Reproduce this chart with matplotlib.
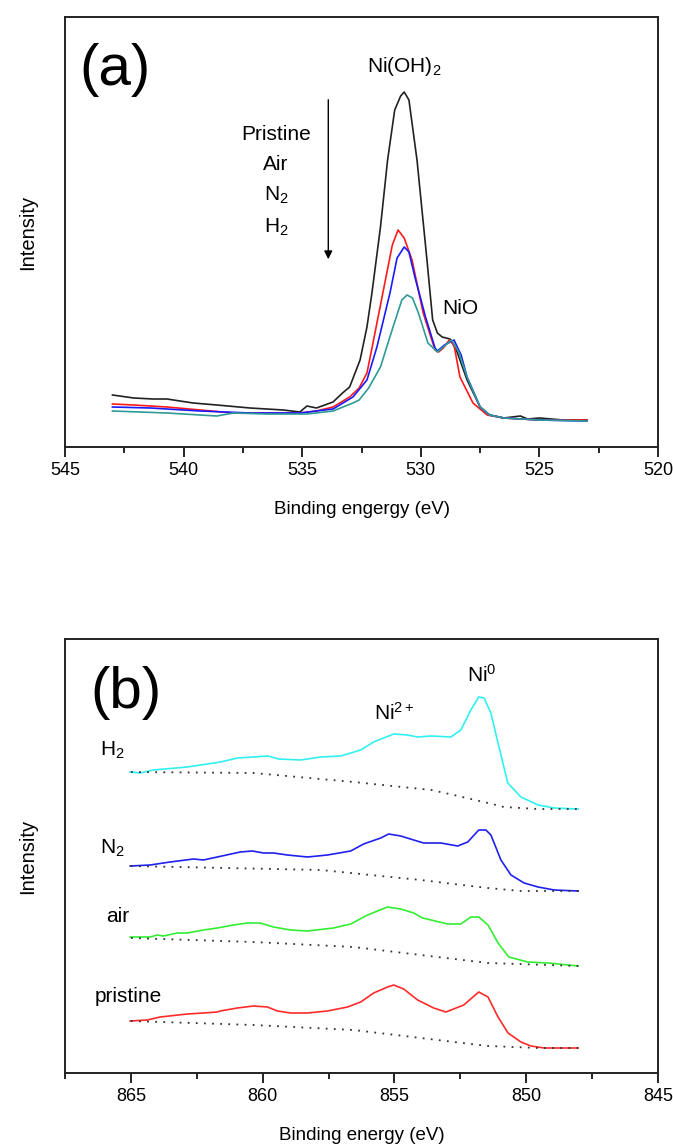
import matplotlib
matplotlib.use("Agg")
import matplotlib.pyplot as plt
from matplotlib.ticker import MultipleLocator

plt.rcParams['font.family'] = ['Liberation Sans', 'DejaVu Sans']
plt.rcParams['mathtext.default'] = 'regular'

# ---- panel (a): O 1s ----
e_pristine_a = [543.0, 542.1, 541.3, 540.7, 539.6, 538.6, 537.2, 535.8, 535.1, 534.8, 534.4,
                533.7, 533.3, 533.0, 532.56, 532.27, 532.06, 531.7, 531.4, 531.1, 530.85, 530.7,
                530.5, 530.16, 529.74, 529.5, 529.3, 529.1, 528.77, 528.5, 528.05, 527.5, 527.1,
                526.5, 525.8, 525.5, 525.0, 524.0, 523.0]
i_pristine_a = [52, 49, 48, 48, 44, 42, 39, 37, 35, 41, 39, 45, 54, 60, 87, 120, 154, 220, 287,
                337, 351, 355, 347, 287, 187, 127, 114, 110, 108, 97, 67, 40, 32, 29, 31, 28,
                29, 27, 27]

e_air_a = [543.0, 542.1, 540.7, 539.3, 537.9, 536.5, 535.1, 534.4, 533.7, 533.0, 532.6, 532.27,
           532.1, 531.6, 531.2, 530.96, 530.7, 530.37, 529.9, 529.4, 529.25, 529.05, 528.8,
           528.6, 528.35, 527.8, 527.2, 526.5, 525.0, 523.0]
i_air_a = [43, 42, 40, 37, 34, 34, 34, 36, 40, 50, 59, 74, 94, 154, 202, 217, 209, 187, 134,
           97, 95, 99, 107, 102, 70, 44, 32, 29, 27, 27]

e_n2_a = [543.0, 541.4, 539.3, 537.2, 535.1, 533.7, 532.86, 532.27, 531.85, 531.3, 531.0,
          530.7, 530.5, 530.25, 529.8, 529.4, 529.3, 529.0, 528.6, 528.3, 528.05, 527.5,
          527.1, 526.5, 525.0, 523.0]
i_n2_a = [40, 39, 36, 34, 34, 38, 50, 67, 100, 154, 189, 200, 195, 170, 130, 99, 96, 102,
          107, 92, 70, 40, 32, 29, 27, 26]

e_h2_a = [543.0, 540.7, 538.6, 537.9, 536.5, 534.8, 533.7, 532.86, 532.6, 532.2, 531.7,
          531.17, 530.8, 530.58, 530.35, 530.1, 529.7, 529.3, 529.0, 528.7, 528.4, 528.05,
          527.5, 527.1, 526.5, 525.0, 523.0]
i_h2_a = [36, 34, 31, 34, 33, 33, 36, 44, 47, 59, 80, 120, 147, 152, 149, 134, 104, 95, 101,
          107, 95, 70, 40, 32, 29, 27, 26]

# ---- panel (b): Ni 2p3/2 ----
e_h2_b = [865.03, 864.65, 864.15, 862.86, 862.1, 861.6, 860.96, 860.35, 859.8, 859.4, 858.56,
          857.8, 857.04, 856.28, 855.79, 855.03, 854.5, 854.12, 853.6, 852.86, 852.48, 852.1,
          851.8, 851.6, 851.34, 851.07, 850.7, 850.2, 849.55, 848.94, 848.03]
i_h2_b = [301, 300, 303, 306, 309, 311, 315, 316, 317, 314, 313, 316, 317, 323, 331, 339, 338,
          336, 337, 336, 343, 363, 376, 375, 360, 330, 290, 276, 268, 265, 264]
e_h2_bg = [865.0, 860.35, 856.55, 853.6, 852.75, 851.45, 850.85, 849.55, 848.0]
i_h2_bg = [301, 300, 291, 283, 278, 270, 266, 264, 264]

e_n2_b = [865.03, 864.27, 863.51, 862.63, 862.25, 861.72, 860.85, 860.39, 859.97, 859.59,
          859.06, 858.3, 857.54, 856.66, 856.17, 855.52, 855.22, 854.76, 854.27, 853.89,
          853.24, 852.6, 852.22, 851.8, 851.53, 851.34, 850.96, 850.58, 850.08, 849.55,
          848.94, 848.03]
i_n2_b = [207, 208, 211, 214, 213, 216, 221, 222, 220, 220, 218, 216, 218, 222, 229, 235, 239,
          237, 233, 230, 230, 227, 231, 243, 243, 238, 213, 198, 190, 186, 183, 182]
e_n2_bg = [865.0, 857.8, 854.0, 852.75, 851.45, 850.2, 848.0]
i_n2_bg = [207, 203, 193, 189, 185, 182, 182]

e_air_b = [865.03, 864.27, 864.0, 863.77, 863.24, 862.86, 862.25, 861.72, 861.11, 860.58,
           860.09, 859.59, 858.94, 858.3, 857.31, 856.66, 856.02, 855.26, 854.76, 854.27,
           853.93, 852.98, 852.48, 852.1, 851.8, 851.45, 851.07, 850.66, 849.94, 849.17, 848.03]
i_air_b = [136, 136, 138, 137, 140, 140, 143, 145, 148, 150, 150, 146, 143, 142, 145, 149, 158,
           166, 164, 160, 155, 149, 149, 156, 156, 148, 130, 116, 111, 110, 107]
e_air_bg = [865.0, 860.35, 856.55, 854.0, 851.45, 848.03]
i_air_bg = [135, 131, 126, 118, 110, 107]

e_pristine_b = [865.03, 864.38, 863.89, 862.86, 862.25, 861.72, 861.61, 860.96, 860.35, 859.82,
                859.44, 858.94, 858.3, 857.54, 856.78, 856.28, 855.79, 855.26, 855.03, 854.65,
                854.12, 853.51, 853.05, 852.37, 851.8, 851.45, 851.07, 850.69, 850.2, 849.82,
                849.32, 848.03]
i_pristine_b = [52, 53, 56, 59, 60, 61, 62, 65, 67, 66, 62, 60, 60, 62, 66, 71, 80, 86, 88, 84,
                73, 65, 61, 68, 81, 76, 56, 40, 31, 27, 25, 25]
e_pristine_bg = [865.0, 860.35, 856.55, 854.0, 851.45, 849.55, 848.03]
i_pristine_bg = [52, 48, 43, 35, 27, 25, 25]

fig = plt.figure(figsize=(6.73, 11.44), dpi=100)
ax1 = fig.add_axes([65/673, 1-447/1144, 593/673, 430/1144])
ax2 = fig.add_axes([65/673, 1-1073/1144, 593/673, 434/1144])

lw = 1.2
ax1.plot(e_pristine_a, i_pristine_a, color='#222222', lw=lw)
ax1.plot(e_air_a, i_air_a, color='#ff1a1a', lw=lw)
ax1.plot(e_n2_a, i_n2_a, color='#1a1aff', lw=lw)
ax1.plot(e_h2_a, i_h2_a, color='#2f9a96', lw=lw)

ax1.set_xlim(545, 520)
ax1.set_ylim(0, 430)
ax1.set_xlabel('Binding engergy (eV)', fontsize=13.5, labelpad=16)
ax1.set_ylabel('Intensity', fontsize=14.5, labelpad=20)

ax1.text(542.9, 377, '(a)', fontsize=42, ha='center', va='center')
ax1.text(530.7, 381, 'Ni(OH)$_2$', fontsize=15, ha='center', va='center')
ax1.text(528.35, 139, 'NiO', fontsize=15, ha='center', va='center')
for lab, yy in zip(['Pristine', 'Air', 'N$_2$', 'H$_2$'], [312, 282, 252, 220]):
    ax1.text(536.1, yy, lab, fontsize=15, ha='center', va='center')
ax1.annotate('', xy=(533.9, 185), xytext=(533.9, 350),
             arrowprops=dict(arrowstyle='-|>', color='black', lw=1, mutation_scale=12))

ax2.plot(e_h2_b, i_h2_b, color='#33f0f0', lw=lw)
ax2.plot(e_n2_b, i_n2_b, color='#2020f0', lw=lw)
ax2.plot(e_air_b, i_air_b, color='#33ee33', lw=lw)
ax2.plot(e_pristine_b, i_pristine_b, color='#ff2a2a', lw=lw)
for e, i in [(e_h2_bg, i_h2_bg), (e_n2_bg, i_n2_bg), (e_air_bg, i_air_bg),
             (e_pristine_bg, i_pristine_bg)]:
    ax2.plot(e, i, color='#333333', lw=1.3, ls=(0, (1, 3.5)))

ax2.set_xlim(867.5, 845)
ax2.set_ylim(0, 434)
ax2.set_xlabel('Binding energy (eV)', fontsize=13.5, labelpad=16)
ax2.set_ylabel('Intensity', fontsize=14.5, labelpad=20)

ax2.text(865.2, 380, '(b)', fontsize=42, ha='center', va='center')
ax2.text(851.7, 398, 'Ni$^0$', fontsize=15, ha='center', va='center')
ax2.text(855.0, 360, 'Ni$^{2+}$', fontsize=15, ha='center', va='center')
ax2.text(865.7, 323, 'H$_2$', fontsize=15, ha='center', va='center')
ax2.text(865.7, 225, 'N$_2$', fontsize=15, ha='center', va='center')
ax2.text(865.5, 156, 'air', fontsize=15, ha='center', va='center')
ax2.text(865.1, 76, 'pristine', fontsize=15, ha='center', va='center')

for ax in (ax1, ax2):
    ax.xaxis.set_major_locator(MultipleLocator(5))
    ax.xaxis.set_minor_locator(MultipleLocator(2.5))
    ax.tick_params(axis='x', which='major', direction='out', length=7, width=1.2, labelsize=13)
    ax.tick_params(axis='x', which='minor', direction='out', length=4, width=1.2)
    ax.set_yticks([])
    for s in ax.spines.values():
        s.set_linewidth(1.4)
        s.set_color('#222222')

fig.savefig('out.png', dpi=100)
